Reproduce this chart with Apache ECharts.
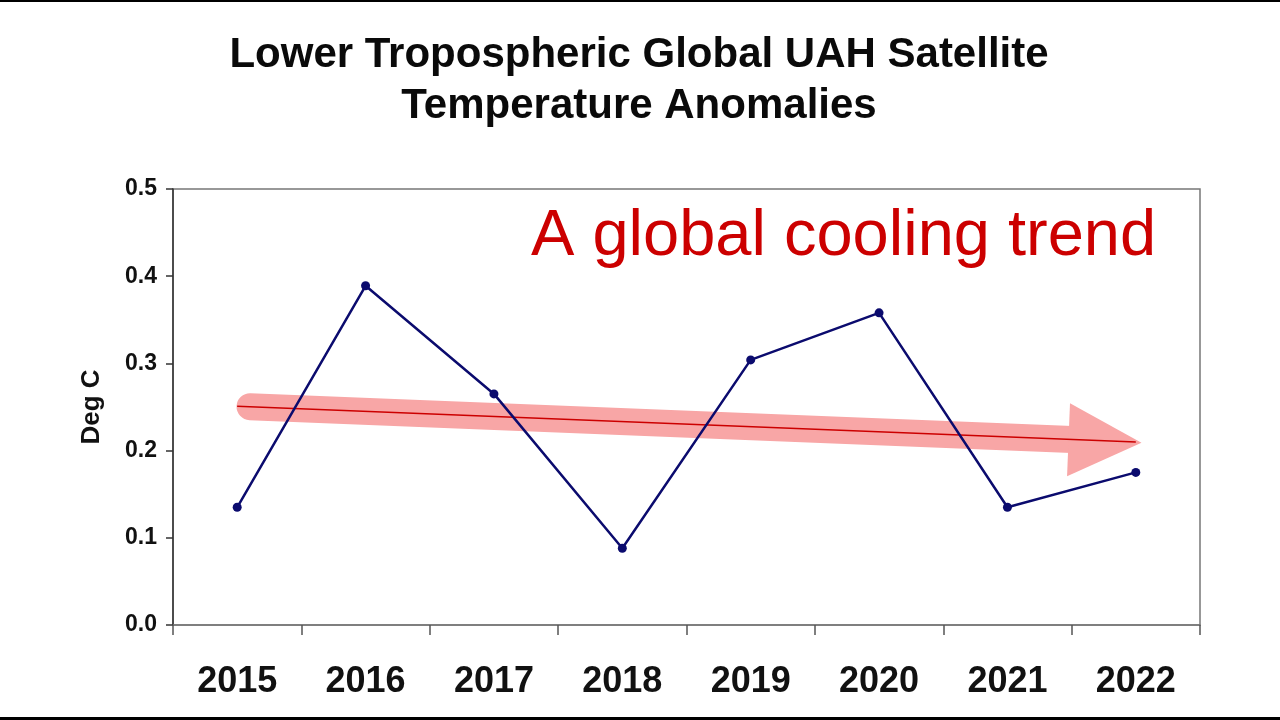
<!DOCTYPE html>
<html>
<head>
<meta charset="utf-8">
<script src="https://cdn.jsdelivr.net/npm/echarts@6/dist/echarts.min.js"></script>
<style>html,body{margin:0;padding:0;background:#fff}#c{width:1280px;height:720px}</style>
</head>
<body>
<div id="c"></div>
<script>
const years = ['2015','2016','2017','2018','2019','2020','2021','2022'];
const anomalies = [0.135, 0.389, 0.265, 0.088, 0.304, 0.358, 0.135, 0.175];
const yTicks = [0.0, 0.1, 0.2, 0.3, 0.4, 0.5];
// hand-drawn trend arrow (x in category index units, y in deg C)
const trendShaft = [[0.1, 0.2504], [6.55, 0.2125]];
const trendHead = [[6.76, 0.2108]];
const trendLine = [[0.0, 0.2510], [7.0, 0.2100]];
const titleText = 'Lower Tropospheric Global UAH Satellite\nTemperature Anomalies';
const noteText = 'A global cooling trend';

const chart = echarts.init(document.getElementById('c'));
const FONT = '"Liberation Sans", Arial, sans-serif';
const PINK = '#f8a6a6';
chart.setOption({
  animation: false,
  backgroundColor: '#fff',
  title: {
    text: titleText,
    left: 634, top: 25, textAlign: 'center',
    textStyle: {fontFamily: FONT, fontSize: 42, fontWeight: 'bold', color: '#0a0a0a', lineHeight: 51}
  },
  graphic: [
    {type: 'rect', shape: {x: 0, y: 0, width: 1280, height: 2}, style: {fill: '#000'}},
    {type: 'rect', shape: {x: 0, y: 717, width: 1280, height: 3}, style: {fill: '#000'}},
    {type: 'text', x: 531, y: 237, style: {text: noteText, font: '65px ' + FONT, fill: '#cc0000', verticalAlign: 'middle', align: 'left'}}
  ],
  grid: {left: 173, right: 80, top: 189, bottom: 95, show: true, borderColor: '#777', borderWidth: 1.5},
  xAxis: [{
    type: 'category', data: years, boundaryGap: true,
    axisLine: {lineStyle: {color: '#777', width: 1.5}},
    axisTick: {show: true, length: 10, lineStyle: {color: '#555', width: 1.5}},
    axisLabel: {fontFamily: FONT, fontSize: 36, fontWeight: 'bold', color: '#111', margin: 39},
    splitLine: {show: false}
  }, {
    type: 'value', min: -0.5, max: 7.5, show: false
  }],
  yAxis: {
    type: 'value', min: 0, max: 0.5, interval: 0.1,
    name: 'Deg C', nameLocation: 'middle', nameRotate: 90, nameGap: 68,
    nameTextStyle: {fontFamily: FONT, fontSize: 26, fontWeight: 'bold', color: '#111'},
    axisLine: {show: true, onZero: false, lineStyle: {color: '#333', width: 1.5}},
    axisTick: {show: true, length: 7, lineStyle: {color: '#333', width: 1.5}},
    axisLabel: {fontFamily: FONT, fontSize: 23, fontWeight: 'bold', color: '#111', margin: 16,
      formatter: v => v.toFixed(1)},
    splitLine: {show: false}
  },
  series: [
    {type: 'line', xAxisIndex: 1, data: trendShaft, symbol: 'none', silent: true, z: 1,
      lineStyle: {width: 27, color: PINK, cap: 'round', opacity: 1}},
    {type: 'scatter', xAxisIndex: 1, data: trendHead, symbol: 'triangle', symbolSize: [73, 73],
      symbolRotate: -92.3, silent: true, z: 1, itemStyle: {color: PINK, opacity: 1}},
    {type: 'line', xAxisIndex: 1, data: trendLine, symbol: 'none', silent: true, z: 2,
      lineStyle: {width: 1.5, color: '#cc0000'}},
    {type: 'line', xAxisIndex: 0, data: anomalies, symbol: 'circle', symbolSize: 9, z: 3,
      itemStyle: {color: '#0b0b6e'}, lineStyle: {width: 2.5, color: '#0b0b6e'}}
  ]
});
</script>
</body>
</html>
